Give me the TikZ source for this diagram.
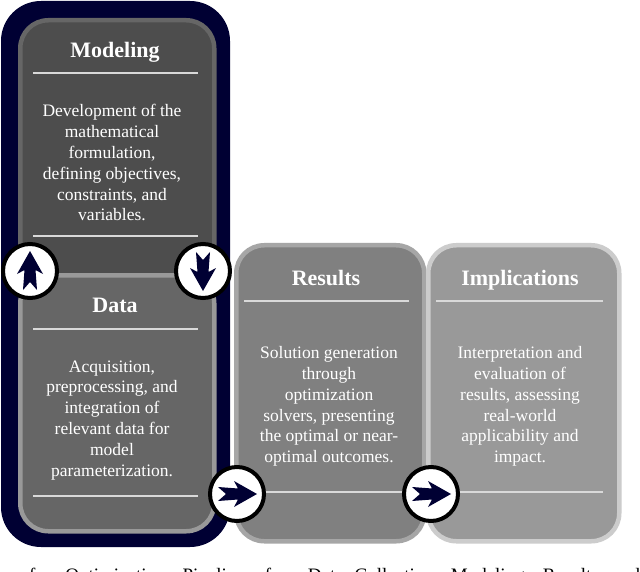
\documentclass[tikz,border=0pt]{standalone}
\usepackage{fontspec}
\setmainfont{Liberation Serif}
\usetikzlibrary{positioning, arrows.meta}
\definecolor{pipeNavy}{HTML}{000033}
\definecolor{modelGrey}{HTML}{4D4D4D}
\definecolor{modelEdge}{HTML}{666666}
\definecolor{dataGrey}{HTML}{666666}
\definecolor{dataEdge}{HTML}{999999}
\definecolor{resultGrey}{HTML}{808080}
\definecolor{resultEdge}{HTML}{A6A6A6}
\definecolor{implGrey}{HTML}{999999}
\definecolor{implEdge}{HTML}{CCCCCC}
\tikzset{
  panel/.style={rounded corners=28pt, line width=4.5pt, anchor=north west, inner sep=0pt},
  headtext/.style={text=white, font=\fontsize{22}{24}\selectfont\bfseries, anchor=base},
  bodytext/.style={text=white, font=\fontsize{17.5}{20.8}\selectfont, align=center, anchor=north},
  rulenode/.style={draw=white!85!black, line width=1.3pt},
  badge/.style={circle, draw=black, fill=white, line width=4pt, minimum size=54pt, inner sep=0pt},
  chevron/.style={fill=pipeNavy, draw=none}
}
\newcommand{\chevronpath}[2]{% centre, rotation
  \fill[chevron, shift={(#1)}, rotate=#2]
    (20,0) -- (-3,-13) -- (1,-5.5) -- (-19,-7) -- (-11,0) -- (-19,7) -- (1,5.5) -- (-3,13) -- cycle;
}
\begin{document}
\begin{tikzpicture}[x=1pt, y=-1pt]
  \useasboundingbox (0,0) rectangle (640,572);
  \fill[white] (0,0) rectangle (640,572);

  % outer highlight
  \node[panel, fill=pipeNavy, rounded corners=40pt, line width=0pt, minimum width=229pt, minimum height=546pt] (outer) at (1,1) {};

  % panels
  \node[panel, draw=resultEdge, fill=resultGrey, minimum width=188pt, minimum height=296pt] (results) at (234,243) {};
  \node[panel, draw=implEdge, fill=implGrey, minimum width=191pt, minimum height=296pt] (impl) at (426,243) {};
  \node[panel, draw=modelEdge, fill=modelGrey, minimum width=194pt, minimum height=262pt] (model) at (18,18) {};
  \node[panel, draw=dataEdge, fill=dataGrey, minimum width=194pt, minimum height=256pt] (data) at (18,273) {};

  % headings
  \node[headtext] (modelHead) at (115,58) {Modeling};
  \node[headtext] (dataHead) at (115,312) {Data};
  \node[headtext] (resultsHead) at (326,285) {Results};
  \node[headtext] (implHead) at (520,285) {Implications};

  % rules
  \draw[rulenode] (33,73) -- (198,73);
  \draw[rulenode] (33,236) -- (198,236);
  \draw[rulenode] (33,329) -- (198,329);
  \draw[rulenode] (33,496) -- (198,496);
  \draw[rulenode] (244,301) -- (409,301);
  \draw[rulenode] (244,492) -- (409,492);
  \draw[rulenode] (436,301) -- (603,301);
  \draw[rulenode] (436,492) -- (603,492);

  % body text
  \node[bodytext] (modelBody) at (112,101)
    {Development of the\\mathematical\\formulation,\\defining objectives,\\constraints, and\\variables.};
  \node[bodytext] (dataBody) at (112,357)
    {Acquisition,\\preprocessing, and\\integration of\\relevant data for\\model\\parameterization.};
  \node[bodytext] (resultsBody) at (329,343)
    {Solution generation\\through\\optimization\\solvers, presenting\\the optimal or near-\\optimal outcomes.};
  \node[bodytext] (implBody) at (520,343)
    {Interpretation and\\evaluation of\\results, assessing\\real-world\\applicability and\\impact.};

  % badges
  \node[badge] (up) at (30,271) {};
  \node[badge] (down) at (203,271) {};
  \node[badge] (next) at (237,494) {};
  \node[badge] (last) at (431,494) {};
  \chevronpath{up}{90}
  \chevronpath{down}{-90}
  \chevronpath{next}{0}
  \chevronpath{last}{0}

  % caption, cut by the page edge
  \begin{scope}
    \clip (0,555) rectangle (640,572);
    \node[anchor=base west, font=\fontsize{19}{21}\selectfont, inner sep=0pt] (caption) at (29,581)
      {for\hspace{14pt}Optimization\hspace{17pt}Pipeline\hspace{20pt}from\hspace{6pt}Data\hspace{11pt}Collection\hspace{17pt}Modeling\hspace{18pt}Results\hspace{14pt}and};
  \end{scope}
\end{tikzpicture}
\end{document}
